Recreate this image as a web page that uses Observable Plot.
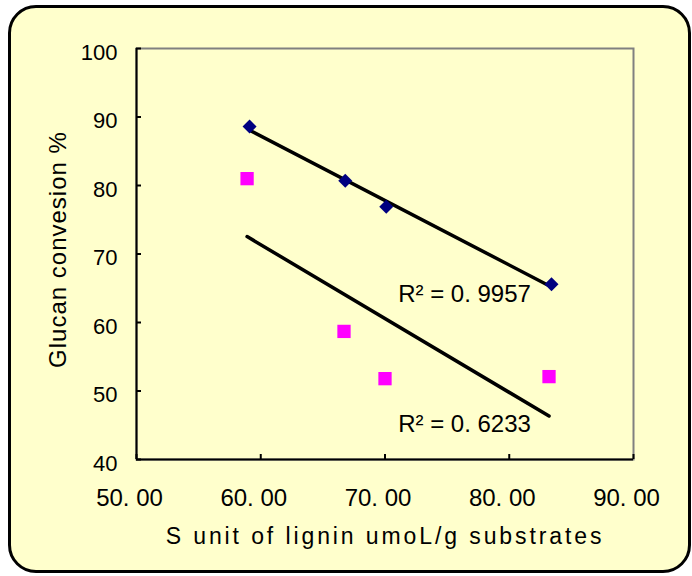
<!DOCTYPE html>
<html>
<head>
<meta charset="utf-8">
<script src="https://cdn.jsdelivr.net/npm/d3@7"></script>
<script src="https://cdn.jsdelivr.net/npm/@observablehq/plot@0.6"></script>
<style>
  html, body { margin: 0; padding: 0; background: #ffffff; }
  #wrap { position: relative; width: 692px; height: 576px; }
  #frame { position: absolute; left: 8px; top: 5px; width: 677px; height: 562px;
           border: 3px solid #000; border-radius: 28px; background: #FFFFCC; }
  #chart { position: absolute; left: 0; top: 0; }
</style>
</head>
<body>
<div id="wrap"><div id="frame"></div><div id="chart"></div></div>
<script>
// Series 1 (navy diamonds)
const s1X = [59.1, 66.8, 70.1, 83.4];
const s1Y = [88.6, 80.7, 76.9, 65.6];
// Series 2 (magenta squares)
const s2X = [58.9, 66.7, 70.0, 83.2];
const s2Y = [81.0, 58.7, 51.8, 52.1];
// Axis ticks and labels
const xTicks = [50, 60, 70, 80, 90];
const xTickLabels = ["50. 00", "60. 00", "70. 00", "80. 00", "90. 00"];
const yTicks = [40, 50, 60, 70, 80, 90, 100];
const xTitle = "S unit of lignin umoL/g substrates";
const yTitle = "Glucan convesion %";
// R² annotations
const rLabels = ["R² = 0. 9957", "R² = 0. 6233"];
const rLabelX = [76.4, 76.4];
const rLabelY = [64.1, 45.1];

const d1 = s1X.map((x, i) => ({x, y: s1Y[i]}));
const d2 = s2X.map((x, i) => ({x, y: s2Y[i]}));
const ann = rLabels.map((t, i) => ({t, x: rLabelX[i], y: rLabelY[i]}));

const font = "'Liberation Sans', Arial, sans-serif";

const chart = Plot.plot({
  width: 692,
  height: 576,
  marginLeft: 136,
  marginRight: 59,
  marginTop: 48,
  marginBottom: 117,
  style: {background: "transparent", fontFamily: font, fontSize: "22px", color: "#000"},
  x: {domain: [50, 90]},
  y: {domain: [40, 100]},
  marks: [
    Plot.frame({stroke: "#808080", strokeWidth: 2}),
    Plot.ruleX([50], {stroke: "#000", strokeWidth: 2}),
    Plot.ruleY([40], {stroke: "#000", strokeWidth: 2}),
    // inward tick marks
    Plot.axisY(yTicks, {tickSize: -5, strokeWidth: 2, label: null, tickFormat: () => ""}),
    Plot.axisX(xTicks, {tickSize: -5, strokeWidth: 2, label: null, tickFormat: () => ""}),
    // tick labels
    Plot.axisY(yTicks, {tickSize: 0, tickPadding: 19, label: null, fontSize: 22, dy: 4}),
    Plot.axisX(xTicks, {tickSize: 0, tickPadding: 29, label: null, fontSize: 24, dx: -7,
      tickFormat: (d) => xTickLabels[xTicks.indexOf(d)]}),
    Plot.linearRegressionY(d1, {x: "x", y: "y", stroke: "#000", strokeWidth: 3.5, ci: 0}),
    Plot.linearRegressionY(d2, {x: "x", y: "y", stroke: "#000", strokeWidth: 3.5, ci: 0}),
    Plot.dot(d1, {x: "x", y: "y", symbol: "diamond2", r: 6.3, fill: "#000080", stroke: "none"}),
    Plot.dot(d2, {x: "x", y: "y", symbol: "square", r: 7.5, fill: "#FF00FF", stroke: "none"}),
    Plot.text(ann, {x: "x", y: "y", text: "t", fontSize: 24}),
    Plot.text([xTitle], {frameAnchor: "bottom", dy: 84, fontSize: 23}),
    Plot.text([yTitle], {frameAnchor: "left", textAnchor: "middle", rotate: -90, dx: -78, dy: -4.5, fontSize: 24})
  ]
});
// letter spacing for titles
chart.querySelectorAll("text").forEach(t => {
  if (t.textContent === xTitle) t.setAttribute("letter-spacing", "2.9");
  if (t.textContent === yTitle) t.setAttribute("letter-spacing", "1");
});
document.getElementById("chart").appendChild(chart);
</script>
</body>
</html>
